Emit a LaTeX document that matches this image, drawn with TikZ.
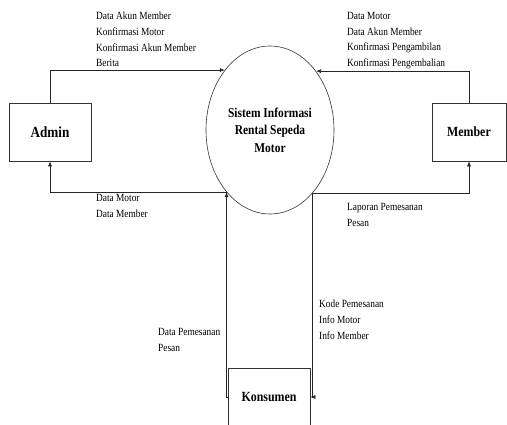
\documentclass[tikz,border=0pt]{standalone}
\usepackage{fontspec}
\setmainfont{Liberation Serif}[FakeStretch=0.85]
\usetikzlibrary{arrows.meta,shapes.geometric}

\begin{document}
\begin{tikzpicture}[x=1pt,y=-1pt,
  flow/.style={draw=black!85, line width=0.6pt, -{Latex[length=5pt,width=4pt]}},
  entity/.style={draw=black!80, line width=0.6pt, minimum height=58pt, inner sep=0,
    font=\fontsize{14}{16}\selectfont\bfseries},
  process/.style={ellipse, draw=black!80, line width=0.6pt, minimum width=128pt,
    minimum height=168pt, inner sep=0, align=center,
    font=\fontsize{13.5}{17.5}\selectfont\bfseries},
  lbl/.style={anchor=north west, inner sep=0, align=left,
    font=\fontsize{11}{15.7}\selectfont}]

\useasboundingbox (0,0) rectangle (507,424);

% central process
\node[process] (sys) at (270,130) {Sistem Informasi\\Rental Sepeda\\Motor};

% external entities
\node[entity, minimum width=82pt, font=\fontsize{15.5}{18}\selectfont\bfseries] (admin) at (50,132) {Admin};
\node[entity, minimum width=74pt] (member) at (469,132) {Member};
\node[entity, minimum width=82pt] (konsumen) at (269,397) {Konsumen};

% data flows
\draw[flow] (admin.north) |- (sys.127.8);
\draw[flow] (member.north) |- (sys.52.2);
\draw[flow] (sys.235.9) -| (admin.south);
\draw[flow] (sys.304.1) -| (member.south);
\draw[flow] (konsumen.west) -| (sys.235.9);
\draw[flow] (sys.304.1) |- (konsumen.east);

% flow labels
\node[lbl] (l1) at (96,12) {Data Akun Member\\Konfirmasi Motor\\Konfirmasi Akun Member\\Berita};
\node[lbl] (l2) at (347,12) {Data Motor\\Data Akun Member\\Konfirmasi Pengambilan\\Konfirmasi Pengembalian};
\node[lbl] (l3) at (96,194) {Data Motor\\Data Member};
\node[lbl] (l4) at (347,203) {Laporan Pemesanan\\Pesan};
\node[lbl] (l5) at (319,300) {Kode Pemesanan\\Info Motor\\Info Member};
\node[lbl] (l6) at (158,328) {Data Pemesanan\\Pesan};
\end{tikzpicture}
\end{document}
